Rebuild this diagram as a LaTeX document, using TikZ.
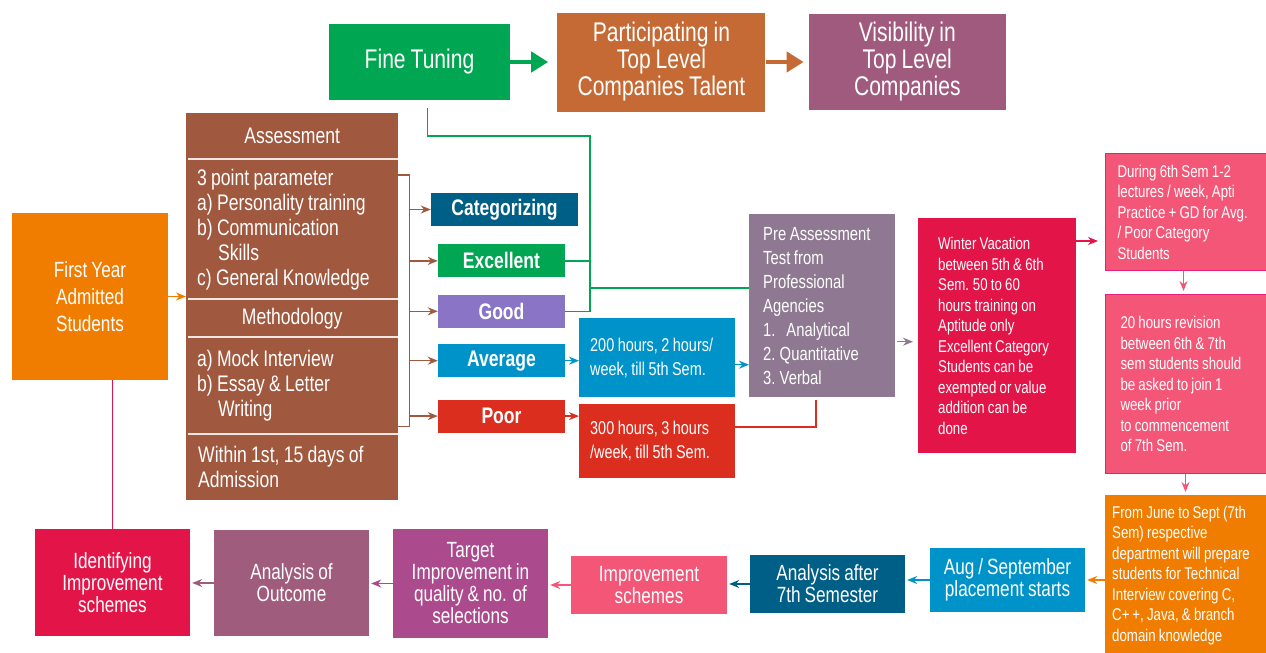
\documentclass[tikz,border=0pt]{standalone}
\usepackage{fontspec}
\setmainfont{Liberation Sans}[FakeStretch=0.78, WordSpace=0.85]
\usepackage{xcolor}
\usetikzlibrary{arrows.meta,positioning}

\definecolor{ftgreen}{HTML}{00A651}
\definecolor{ptorange}{HTML}{C66A35}
\definecolor{vismauve}{HTML}{A05A7D}
\definecolor{asbrown}{HTML}{A0583F}
\definecolor{fyorange}{HTML}{F07D00}
\definecolor{catblue}{HTML}{005F87}
\definecolor{goodpurple}{HTML}{8A74C6}
\definecolor{avgblue}{HTML}{0093C9}
\definecolor{poorred}{HTML}{DC2E1F}
\definecolor{premauve}{HTML}{8F7891}
\definecolor{wincrimson}{HTML}{E31548}
\definecolor{revpink}{HTML}{F45677}
\definecolor{revborder}{HTML}{E8207A}
\definecolor{tgtmagenta}{HTML}{AB4A8D}
\definecolor{outmauve}{HTML}{A05C7C}

\newcommand{\fnTop}{\fontsize{27}{27}\selectfont}
\newcommand{\fnBody}{\fontsize{22.5}{25}\selectfont}
\newcommand{\fnFirst}{\fontsize{22}{27}\selectfont}
\newcommand{\fnCat}{\bfseries\fontsize{22.5}{25}\selectfont}
\newcommand{\fnPre}{\fontsize{19}{24}\selectfont}
\newcommand{\fnHrs}{\fontsize{18.5}{24}\selectfont}
\newcommand{\fnSmall}{\fontsize{17}{20.5}\selectfont}
\newcommand{\fnBot}{\fontsize{22}{22}\selectfont}

\begin{document}
\begin{tikzpicture}[x=1pt, y=-1pt,
    block/.style={rectangle, inner sep=0pt, text=white, align=center},
    lblock/.style={rectangle, inner ysep=0pt, text=white, align=flush left, anchor=north west,
        execute at begin node={\spaceskip=0.19em\xspaceskip=0.22em\relax}},
    catblock/.style={block, minimum width=127pt, minimum height=33pt, font=\fnCat},
    botblock/.style={block, minimum width=155pt, font=\fnBot},
    arrow/.style={-{Stealth[length=10pt,width=8pt]}, line width=1.4pt},
    bigarrow/.style={-{Triangle[length=17pt,width=20pt]}, line width=4.5pt},
    link/.style={line width=1.5pt}]

    \useasboundingbox (0,0) rectangle (1266,653);

    % top row
    \node [block, fill=ftgreen, minimum width=181pt, minimum height=76pt, font=\fnTop] (fine) at (419.5,62) {Fine Tuning};
    \node [block, fill=ptorange, minimum width=208pt, minimum height=99pt, font=\fnTop, right=47pt of fine] (part) {Participating in\\Top Level\\Companies Talent};
    \node [block, fill=vismauve, minimum width=197pt, minimum height=96pt, font=\fnTop, right=43pt of part] (vis) {Visibility in\\Top Level\\Companies};

    \draw [bigarrow, ftgreen, shorten >=9pt] (fine) -- (part);
    \draw [bigarrow, ptorange, shorten >=5pt] (part) -- (vis);

    % first year and assessment stack
    \node [block, fill=fyorange, minimum width=156pt, minimum height=167pt, font=\fnFirst] (first) at (90,296.5) {First Year\\Admitted\\Students};

    \node [block, fill=asbrown, minimum width=212pt, minimum height=46pt, anchor=north west, font=\fnBody] (asmt) at (186,113) {Assessment};
    \node [lblock, fill=asbrown, text width=190pt, inner xsep=11pt, minimum height=140pt, font=\fnBody] (params) at (186,159) {3 point parameter\\a) Personality training\\b) Communication\\\hspace*{21pt}Skills\\c) General Knowledge};
    \node [block, fill=asbrown, minimum width=212pt, minimum height=38pt, anchor=north west, font=\fnBody] (meth) at (186,299) {Methodology};
    \node [lblock, fill=asbrown, text width=190pt, inner xsep=11pt, minimum height=97pt, font=\fnBody] (mock) at (186,337) {a) Mock Interview\\b) Essay \& Letter\\\hspace*{21pt}Writing};
    \node [lblock, fill=asbrown, text width=188pt, inner xsep=12pt, minimum height=66pt, font=\fnBody] (within) at (186,434) {Within 1st, 15 days of\\Admission};

    \foreach \n in {params, meth, mock, within}
        \draw [white!85!asbrown, line width=2pt] ([xshift=2pt]\n.north west) -- (\n.north east);

    \draw [arrow, fyorange] (first.east) -- (first.east -| params.west);

    % categories
    \node [catblock, fill=catblue, minimum width=147pt] (cat) at (504.5,209.5) {Categorizing};
    \node [catblock, fill=ftgreen, below=18pt of cat, xshift=-3pt] (exc) {Excellent};
    \node [catblock, fill=goodpurple, below=17pt of exc] (good) {Good};
    \node [catblock, fill=avgblue, below=16pt of good] (avg) {Average};
    \node [catblock, fill=poorred, below=22pt of avg] (poor) {Poor};

    \coordinate (brk) at ([xshift=11pt, yshift=-16pt]params.north east);
    \draw [link, asbrown] ([yshift=-16pt]params.north east) -- (brk) |- ([yshift=8pt]mock.south east);
    \foreach \n in {cat, exc, good, avg, poor}
        \draw [arrow, asbrown] (brk |- \n.west) -- (\n.west);

    % training hours
    \node [lblock, fill=avgblue, text width=134pt, inner xsep=11pt, minimum height=79pt, font=\fnHrs] (hrs200) at (579,318) {200 hours, 2 hours/\\week, till 5th Sem.};
    \node [lblock, fill=poorred, text width=134pt, inner xsep=11pt, minimum height=74pt, font=\fnHrs] (hrs300) at (579,404) {300 hours, 3 hours\\/week, till 5th Sem.};

    \draw [arrow, avgblue] (avg.east) -- (avg.east -| hrs200.west);
    \draw [arrow, poorred] (poor.east) -- (poor.east -| hrs300.west);

    % pre assessment
    \node [lblock, fill=premauve, text width=118pt, inner xsep=14pt, minimum height=183pt, font=\fnPre] (pre) at (749,214) {Pre Assessment\\Test from\\Professional\\Agencies\\1.\ \ \ Analytical\\2. Quantitative\\3. Verbal};

    \draw [arrow, avgblue] ([yshift=-4pt]avg.east -| hrs200.east) -- ([yshift=-4pt]avg.east -| pre.west);
    \draw [link, poorred, shorten >=3pt] ([yshift=14pt]hrs300.east) -| ([xshift=-6pt]pre.south);

    % green links from excellent / good
    \coordinate (gj) at (590,136);
    \coordinate (gk) at (590,288);
    \draw [link, ftgreen] ([xshift=8pt, yshift=-8pt]fine.south) |- (gj) -- (gj |- good.east) -- (good.east);
    \draw [link, ftgreen] (exc.east) -- (exc.east -| gj);
    \draw [link, ftgreen] (gk) -- (gk -| pre.west);

    % winter vacation and right column
    \node [lblock, fill=wincrimson, text width=118pt, inner xsep=20pt, minimum height=235pt, font=\fnSmall] (winter) at (918,218) {Winter Vacation\\between 5th \& 6th\\Sem. 50 to 60\\hours training on\\Aptitude only\\Excellent Category\\Students can be\\exempted or value\\addition can be\\done};
    \draw [arrow, premauve, shorten <=2pt, shorten >=5pt] ([yshift=-36pt]pre.east) -- ([yshift=-36pt]pre.east -| winter.west);

    \node [lblock, fill=revpink, draw=revborder, line width=1pt, text width=142pt, inner xsep=12pt, minimum height=117pt, font=\fnSmall] (during) at (1105,153) {During 6th Sem 1-2\\lectures / week, Apti\\Practice + GD for Avg.\\/ Poor Category\\Students};
    \node [lblock, fill=revpink, draw=revborder, line width=1pt, text width=140pt, inner xsep=15pt, minimum height=179pt, font=\fnSmall] (rev20) at (1105,294) {20 hours revision\\between 6th \& 7th\\sem students should\\be asked to join 1\\week prior\\to commencement\\of 7th Sem.};
    \node [lblock, fill=fyorange, text width=150pt, inner xsep=7pt, minimum height=160pt, font=\fnSmall] (june) at (1105,495) {From June to Sept (7th\\Sem) respective\\department will prepare\\students for Technical\\Interview covering C,\\C+\,+, Java, \& branch\\domain knowledge};

    \draw [arrow, wincrimson, shorten >=7pt] ([yshift=-23pt]winter.north east) -- ([yshift=-23pt]winter.north east -| during.west);
    \draw [arrow, revpink, shorten >=3pt] ([xshift=-5pt]during.south) -- ([xshift=-5pt]during.south |- rev20.north);
    \draw [arrow, revpink, shorten >=3pt] ([xshift=-5pt]rev20.south) -- ([xshift=-5pt]rev20.south |- june.north);

    % bottom row
    \node [botblock, fill=avgblue, minimum height=64pt] (aug) at (1007.5,580) {Aug / September\\placement starts};
    \node [botblock, fill=catblue, minimum height=58pt] (after) at (827.5,584) {Analysis after\\7th Semester};
    \node [botblock, fill=revpink, minimum width=156pt, minimum height=58pt] (impr) at (649,585) {Improvement\\schemes};
    \node [botblock, fill=tgtmagenta, minimum height=109pt] (target) at (470.5,583.5) {Target\\Improvement in\\quality \& no. of\\selections};
    \node [botblock, fill=outmauve, minimum height=106pt] (outcome) at (291.5,583) {Analysis of\\Outcome};
    \node [botblock, fill=wincrimson, minimum height=107pt] (ident) at (112.5,582.5) {Identifying\\Improvement\\schemes};

    \draw [arrow, fyorange, shorten >=2pt] (aug.east -| june.west) -- (aug.east);
    \draw [arrow, avgblue, shorten >=2pt] (aug.west) -- (aug.west -| after.east);
    \draw [arrow, catblue, shorten >=2pt] (after.west) -- (after.west -| impr.east);
    \draw [arrow, revpink, shorten >=2pt] (impr.west) -- (impr.west -| target.east);
    \draw [arrow, tgtmagenta, shorten >=2pt] (target.west) -- (target.west -| outcome.east);
    \draw [arrow, outmauve, shorten >=2pt] (outcome.west) -- (outcome.west -| ident.east);
    \draw [link, wincrimson] (ident.north) -- (ident.north |- first.south);
\end{tikzpicture}
\end{document}
